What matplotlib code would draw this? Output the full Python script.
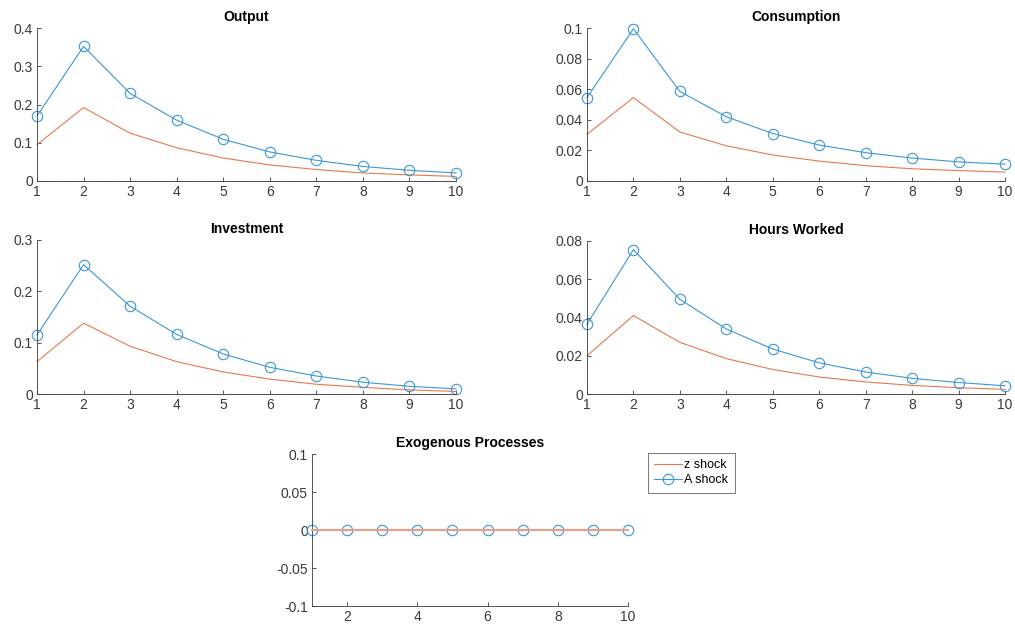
import numpy as np
import matplotlib
matplotlib.use("Agg")
import matplotlib.pyplot as plt

plt.rcParams['font.family'] = ['Liberation Sans', 'DejaVu Sans']

periods = np.arange(1, 11)

# impulse responses
output_A = [0.170, 0.352, 0.229, 0.159, 0.109, 0.076, 0.054, 0.038, 0.028, 0.021]
output_z = [0.095, 0.192, 0.125, 0.087, 0.060, 0.042, 0.030, 0.021, 0.016, 0.012]
cons_A = [0.0545, 0.0995, 0.0585, 0.0420, 0.0310, 0.0235, 0.0185, 0.0150, 0.0125, 0.0110]
cons_z = [0.0305, 0.0545, 0.0320, 0.0230, 0.0170, 0.0130, 0.0100, 0.0080, 0.0068, 0.0058]
inv_A = [0.115, 0.252, 0.171, 0.116, 0.078, 0.052, 0.035, 0.023, 0.015, 0.010]
inv_z = [0.063, 0.138, 0.093, 0.063, 0.043, 0.029, 0.019, 0.013, 0.008, 0.005]
hours_A = [0.0365, 0.0755, 0.0495, 0.0340, 0.0235, 0.0163, 0.0115, 0.0082, 0.0060, 0.0043]
hours_z = [0.0200, 0.0410, 0.0270, 0.0185, 0.0128, 0.0089, 0.0063, 0.0045, 0.0033, 0.0024]
exo_A = [0, 0, 0, 0, 0, 0, 0, 0, 0, 0]
exo_z = [0, 0, 0, 0, 0, 0, 0, 0, 0, 0]
zero_line = [0, 0, 0, 0, 0, 0, 0, 0, 0, 0]

blue = '#3C97D6'
orange = '#E6794F'
axcol = '#3a3a3a'

W, H = 1015, 628
fig = plt.figure(figsize=(W / 100, H / 100), dpi=100)


def make_ax(x0, x1, ytop, ybot):
    # pixel box -> figure fraction
    return fig.add_axes([x0 / W, 1 - ybot / H, (x1 - x0) / W, (ybot - ytop) / H])


def style(ax, title, ylim, yticks, ylabels, xticks):
    ax.set_title(title, fontsize=10, fontweight='bold', pad=5)
    ax.set_xlim(1, 10)
    ax.set_ylim(*ylim)
    ax.set_yticks(yticks)
    ax.set_yticklabels(ylabels)
    ax.set_xticks(xticks)
    ax.set_xticklabels([str(t) for t in xticks])
    for s in ['top', 'right']:
        ax.spines[s].set_visible(False)
    for s in ['left', 'bottom']:
        ax.spines[s].set_color(axcol)
        ax.spines[s].set_linewidth(0.6)
    ax.tick_params(direction='in', length=3, width=0.6, colors=axcol,
                   labelsize=10, labelcolor=axcol, pad=3)
    ax.patch.set_alpha(0)


panels = [
    ('Output', (37, 456, 28, 181), output_z, output_A, (0, 0.4),
     [0, 0.1, 0.2, 0.3, 0.4], ['0', '0.1', '0.2', '0.3', '0.4']),
    ('Consumption', (587, 1005, 28, 181), cons_z, cons_A, (0, 0.1),
     [0, 0.02, 0.04, 0.06, 0.08, 0.1], ['0', '0.02', '0.04', '0.06', '0.08', '0.1']),
    ('Investment', (37, 456, 240, 394), inv_z, inv_A, (0, 0.3),
     [0, 0.1, 0.2, 0.3], ['0', '0.1', '0.2', '0.3']),
    ('Hours Worked', (587, 1005, 241, 394), hours_z, hours_A, (0, 0.08),
     [0, 0.02, 0.04, 0.06, 0.08], ['0', '0.02', '0.04', '0.06', '0.08']),
]

for title, box, z, a, ylim, yt, yl in panels:
    ax = make_ax(*box)
    ax.plot(periods, z, color=orange, lw=0.8, clip_on=False)
    ax.plot(periods, a, color=blue, lw=0.8, marker='o', ms=7.5, mfc='none',
            mew=0.8, clip_on=False)
    ax.plot(periods, zero_line, color='#E04040', lw=0.8, ls=':', clip_on=False)
    style(ax, title, ylim, yt, yl, list(range(1, 11)))

ax = make_ax(312, 628, 454, 606)
la, = ax.plot(periods, exo_A, color=blue, lw=0.8, marker='o', ms=7.5, mfc='none',
              mew=0.8, label='A shock', clip_on=False, zorder=2)
lz, = ax.plot(periods, exo_z, color='#F29C80', lw=1.4, label='z shock',
              clip_on=False, zorder=3)
style(ax, 'Exogenous Processes', (-0.1, 0.1), [-0.1, -0.05, 0, 0.05, 0.1],
      ['-0.1', '-0.05', '0', '0.05', '0.1'], [2, 4, 6, 8, 10])
leg = fig.legend(handles=[lz, la], loc='upper left',
                 bbox_to_anchor=(648 / W, 1 - 453 / H), fontsize=9,
                 frameon=True, fancybox=False, edgecolor=axcol,
                 borderpad=0.5, labelspacing=0.25, handlelength=2.2,
                 handletextpad=0.2, borderaxespad=0)
leg.get_frame().set_linewidth(0.6)
leg.legend_handles[0].set_color(orange)
leg.legend_handles[0].set_linewidth(0.8)

fig.savefig('out.png', dpi=100)
